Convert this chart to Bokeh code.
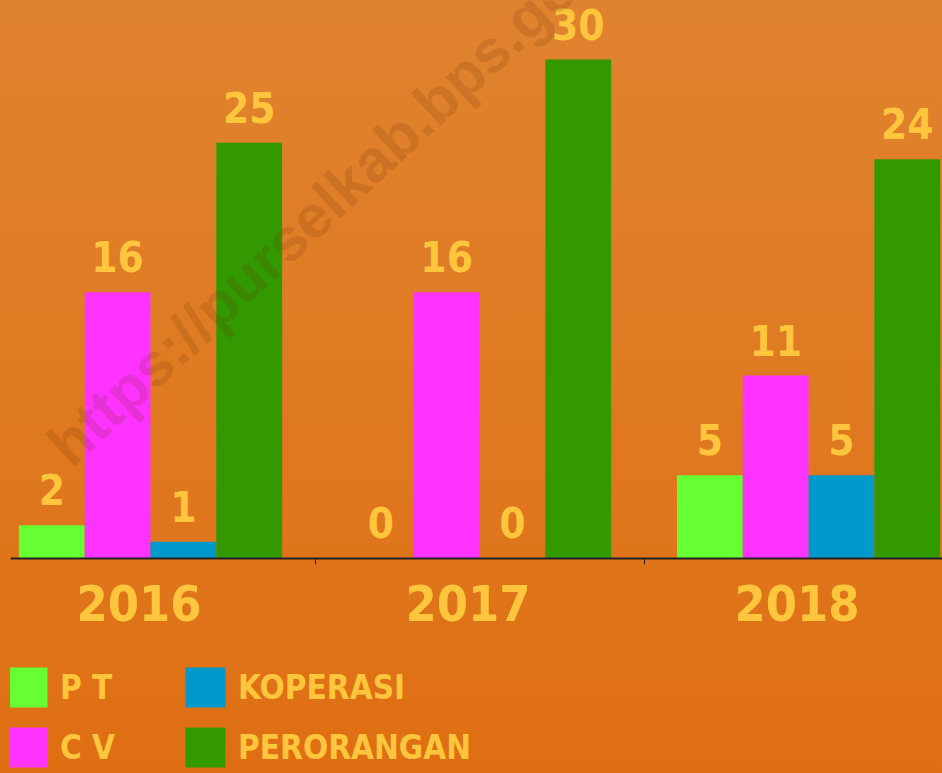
from bokeh.plotting import figure
from bokeh.models import ColumnDataSource, FixedTicker, Legend, LegendItem, Label
from bokeh.transform import dodge
from bokeh.core.properties import value
from bokeh.embed import file_html
from bokeh.resources import INLINE

years = ["2016", "2017", "2018"]
series = ["P T", "C V", "KOPERASI", "PERORANGAN"]
pt = [2, 0, 5]
cv = [16, 16, 11]
koperasi = [1, 0, 5]
perorangan = [25, 30, 24]
colors = ["#66FF33", "#FF33FF", "#0099CC", "#339900"]

FONT = "DejaVu Sans Condensed"
LABEL = "#FEC53D"
LABEL_SHIFT = -0.035  # year labels sit slightly left of the group centres

cols = ["pt", "cv", "kop", "per"]
data = dict(x=list(range(len(years))), pt=pt, cv=cv, kop=koperasi, per=perorangan)
for c in cols:
    data[c + "_lbl"] = [str(v) for v in data[c]]
src = ColumnDataSource(data)

p = figure(frame_width=932, frame_height=773, output_backend="svg", toolbar_location=None,
           x_range=(-0.4255, 2.407), y_range=(-12.93, 33.55),
           min_border_left=10, min_border_right=0, min_border_top=0,
           min_border_bottom=0)
p.background_fill_alpha = 0
p.border_fill_alpha = 0
p.outline_line_color = None
p.styles = {"background": "linear-gradient(180deg, #E0832F 0%, #DF7A22 50%, #DF6E12 100%)"}
p.grid.visible = False
p.yaxis.visible = False

offsets = [-0.3, -0.1, 0.1, 0.3]
items = []
for c, off, col, name in zip(cols, offsets, colors, series):
    r = p.vbar(x=dodge("x", off), top=c, width=0.2, bottom=0, source=src,
               fill_color=col, line_color=None)
    items.append(LegendItem(label=name, renderers=[r]))
    p.text(x=dodge("x", off), y=c, text=c + "_lbl", source=src,
           y_offset=-20, text_align="center", text_baseline="bottom",
           text_font=value(FONT), text_font_style="bold",
           text_font_size="42px", text_color=LABEL)

ax = p.xaxis[0]
ax.fixed_location = 0
tick_pos = [i + LABEL_SHIFT for i in range(len(years))]
ax.ticker = FixedTicker(ticks=tick_pos, minor_ticks=[0.5, 1.5])
ax.major_label_overrides = {t: y for t, y in zip(tick_pos, years)}
ax.major_tick_line_color = None
ax.minor_tick_in = 0
ax.minor_tick_out = 6
ax.minor_tick_line_color = "#222222"
ax.axis_line_color = "#222222"
ax.axis_line_width = 2
ax.major_label_standoff = 21
ax.major_label_text_font = FONT
ax.major_label_text_font_style = "bold"
ax.major_label_text_font_size = "50px"
ax.major_label_text_color = LABEL

wm = Label(x=70, y=295, x_units="screen", y_units="screen",
           text="https://purselkab.bps.go.id", angle=0.75,
           text_font="Liberation Sans", text_font_style="bold",
           text_font_size="60px", text_color="#6A3008", text_alpha=0.17)
p.add_layout(wm)

legend = Legend(items=items, orientation="vertical", nrows=2,
                glyph_width=50, glyph_height=50, label_height=50,
                label_width=110, label_standoff=8, spacing=10,
                padding=0, margin=0, border_line_color=None,
                background_fill_alpha=0, location=(-8, 1),
                label_text_font=FONT, label_text_font_style="bold",
                label_text_font_size="33px", label_text_color=LABEL)
p.add_layout(legend)

open("out.html", "w").write(file_html(p, INLINE))
